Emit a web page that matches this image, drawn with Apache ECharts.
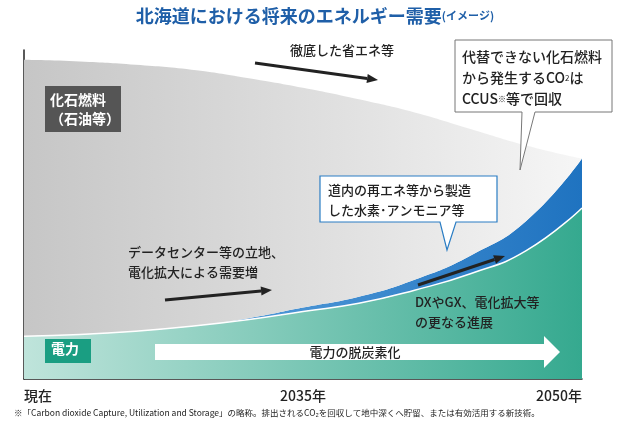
<!DOCTYPE html>
<html><head><meta charset="utf-8">
<script src="https://cdn.jsdelivr.net/npm/echarts@6/dist/echarts.min.js"></script>
<style>body{margin:0}#c{width:630px;height:430px}</style>
</head><body><div id="c"></div>
<script>
var xs = ['0','10','20','30','40','50','60','70','80','90','100'];
var tickLabels = {'0':'現在','50':'2035年','100':'2050年'};
// 電力 (bottom), 水素・アンモニア (band), 化石燃料 (rest) - stacked
var electricity = [13,13.5,14.5,16,18,20.5,23,27,32,39,52];
var hydrogen    = [0,0,0,0,0.4,1.2,2,3.2,5.5,9,15];
var fossil      = [84,83,81,78,73.1,66.8,60,50.8,38.5,23,0];

function arrow(x1,y1,x2,y2){
  var a=Math.atan2(y2-y1,x2-x1), L=11, W=4.5;
  var bx=x2-L*Math.cos(a), by=y2-L*Math.sin(a);
  return [
    {type:'line',z:100,shape:{x1:x1,y1:y1,x2:bx,y2:by},style:{stroke:'#222',lineWidth:3}},
    {type:'polygon',z:100,shape:{points:[[x2,y2],[bx-W*Math.sin(a),by+W*Math.cos(a)],[bx+W*Math.sin(a),by-W*Math.cos(a)]]},style:{fill:'#222'}}
  ];
}
var font='"Noto Sans CJK JP", sans-serif';
var chart = echarts.init(document.getElementById('c'));
var graphics = [
  {type:'text',left:'center',top:7,style:{text:'北海道における将来のエネルギー需要{s|(イメージ)}',font:'bold 18px '+font,fill:'#1f5fa8',rich:{s:{font:'bold 11px '+font,fill:'#1f5fa8'}}}},
  {type:'rect',shape:{x:45,y:86,width:76,height:46},style:{fill:'#555'}},
  {type:'text',x:50,y:90,style:{text:'化石燃料\n（石油等）',font:'bold 14px '+font,fill:'#fff',lineHeight:19}},
  {type:'rect',shape:{x:45,y:339,width:46,height:24},style:{fill:'#1a9e82'}},
  {type:'text',x:51,y:342,style:{text:'電力',font:'bold 14px '+font,fill:'#fff'}},
  {type:'polygon',shape:{points:[[155,344],[544,344],[544,336],[560,352],[544,368],[544,360],[155,360]]},style:{fill:'#fff'}},
  {type:'text',x:355,y:352,style:{text:'電力の脱炭素化',font:'500 13px '+font,fill:'#222',align:'center',verticalAlign:'middle'}},
  {type:'text',x:290,y:44,style:{text:'徹底した省エネ等',font:'500 13px '+font,fill:'#222'}},
  {type:'text',x:128,y:242,style:{text:'データセンター等の立地、\n電化拡大による需要増',font:'500 13px '+font,fill:'#222',lineHeight:20}},
  {type:'text',x:415,y:292,style:{text:'DXやGX、電化拡大等\nの更なる進展',font:'500 13px '+font,fill:'#222',lineHeight:20}},
  {type:'polygon',shape:{points:[[455,40],[612,40],[612,112],[535,112],[520,170],[522,112],[455,112]]},style:{fill:'#fff',stroke:'#777',lineWidth:1}},
  {type:'text',x:462,y:46,style:{text:'代替できない化石燃料\nから発生するCO{sub|2}は\nCCUS{sub|※}等で回収',font:'500 14px '+font,fill:'#222',lineHeight:21,rich:{sub:{font:'8px '+font,fill:'#222'}}}},
  {type:'polygon',shape:{points:[[320,176],[497,176],[497,222],[456,222],[447,250],[440,222],[320,222]]},style:{fill:'#fff',stroke:'#2a7dc4',lineWidth:1.2}},
  {type:'text',x:328,y:180,style:{text:'道内の再エネ等から製造\nした水素･アンモニア等',font:'500 13px '+font,fill:'#222',lineHeight:20}},
  {type:'text',x:14,y:409,style:{text:'※「Carbon dioxide Capture, Utilization and Storage」の略称。排出されるCO₂を回収して地中深くへ貯留、または有効活用する新技術。',font:'8.5px '+font,fill:'#222'}}
].map(function(g){g.z=100;return g;}).concat(arrow(255,63,378,80),arrow(165,300,272,290),arrow(418,285,505,256));

chart.setOption({
  animation:false,
  grid:{left:24,right:48,top:50,bottom:51},
  xAxis:{type:'category',data:xs,boundaryGap:false,
    axisLine:{lineStyle:{color:'#222',width:1.5}},axisTick:{show:false},splitLine:{show:false},
    axisLabel:{interval:0,formatter:function(v){return tickLabels[v]||'';},color:'#222',fontSize:14,fontWeight:500,fontFamily:font,margin:10,
      alignMinLabel:'left',alignMaxLabel:'right'}},
  yAxis:{type:'value',min:0,max:100,axisLine:{show:true,lineStyle:{color:'#222',width:1.5}},axisLabel:{show:false},axisTick:{show:false},splitLine:{show:false}},
  series:[
    {type:'line',stack:'a',smooth:true,symbol:'none',data:electricity,lineStyle:{width:1.5,color:'#fff'},
      areaStyle:{opacity:1,color:new echarts.graphic.LinearGradient(0,0,1,0,[{offset:0,color:'#bfe4db'},{offset:1,color:'#35a98f'}])}},
    {type:'line',stack:'a',smooth:true,symbol:'none',data:hydrogen,lineStyle:{width:0},
      areaStyle:{opacity:1,color:new echarts.graphic.LinearGradient(0,0,1,0,[{offset:0,color:'#6fb0e6'},{offset:1,color:'#1f73c0'}])}},
    {type:'line',stack:'a',smooth:true,symbol:'none',data:fossil,lineStyle:{width:0},
      areaStyle:{opacity:1,color:new echarts.graphic.LinearGradient(0,0,1,0,[{offset:0,color:'#c6c6c6'},{offset:0.6,color:'#e2e2e2'},{offset:1,color:'#f6f6f6'}])}}
  ],
  graphic:graphics
});
</script></body></html>
